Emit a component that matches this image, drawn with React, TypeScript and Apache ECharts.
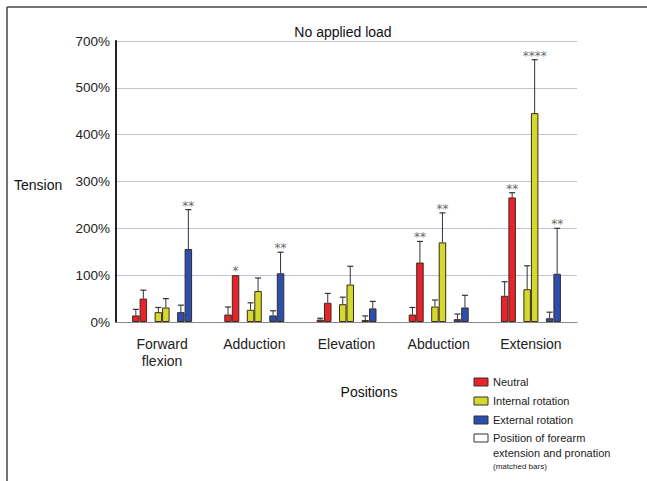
import React, { useEffect, useRef } from 'react';
import * as echarts from 'echarts';

// ---- data (values in % tension) ----
const categories = ['Forward\nflexion', 'Adduction', 'Elevation', 'Abduction', 'Extension'];
const yTickLabels = ['0%', '100%', '200%', '300%', '400%', '500%', '700%'];

const neutralForearm = [14, 16, 5, 16, 56];
const neutralForearmErr = [27, 32, 8, 31, 86];
const neutral = [50, 100, 41, 127, 266];
const neutralErr = [68, 100, 61, 172, 276];
const neutralStars = ['', '*', '', '**', '**'];

const internalForearm = [21, 26, 38, 33, 70];
const internalForearmErr = [31, 41, 53, 47, 120];
const internal = [31, 66, 80, 170, 446];
const internalErr = [50, 94, 119, 233, 560];
const internalStars = ['', '', '', '**', '****'];

const externalForearm = [21, 14, 4, 6, 8];
const externalForearmErr = [36, 24, 13, 17, 21];
const external = [156, 104, 29, 31, 103];
const externalErr = [240, 149, 44, 57, 200];
const externalStars = ['**', '**', '', '', '**'];

const legendLabels = ['Neutral', 'Internal rotation', 'External rotation'];

// ---- styles ----
const RED = '#e8232b';
const YELLOW = '#d4da2c';
const BLUE = '#2c4fae';
const BORDER = '#3a2a22';
const STAR = '#6a6a6a';
const FONT = '"Liberation Sans", Arial, sans-serif';
const BAR_W = 7.5;

export default function App() {
  const ref = useRef<HTMLDivElement>(null);

  useEffect(() => {
    const chart = echarts.init(ref.current!, null, { renderer: 'svg' });

    const barSlots: any[] = [
      { name: 'Neutral (forearm)', data: neutralForearm, err: neutralForearmErr, stars: null, color: RED },
      { name: 'Neutral', data: neutral, err: neutralErr, stars: neutralStars, color: RED },
      { spacer: true },
      { name: 'Internal rotation (forearm)', data: internalForearm, err: internalForearmErr, stars: null, color: YELLOW },
      { name: 'Internal rotation', data: internal, err: internalErr, stars: internalStars, color: YELLOW },
      { spacer: true },
      { name: 'External rotation (forearm)', data: externalForearm, err: externalForearmErr, stars: null, color: BLUE },
      { name: 'External rotation', data: external, err: externalErr, stars: externalStars, color: BLUE },
    ];
    const nSlots = barSlots.length;

    const series: any[] = barSlots.map((s, i) => {
      if (s.spacer) {
        return {
          type: 'bar',
          name: 'spacer' + i,
          data: categories.map(() => 0),
          barWidth: BAR_W,
          barGap: '0%',
          silent: true,
          itemStyle: { opacity: 0, borderWidth: 0 },
        };
      }
      return {
        type: 'bar',
        name: s.name,
        data: s.data,
        barWidth: BAR_W,
        barGap: '0%',
        itemStyle: { color: s.color, borderColor: BORDER, borderWidth: 1 },
      };
    });

    // error bar items
    const errItems: any[] = [];
    barSlots.forEach((s, i) => {
      if (s.spacer) return;
      const off = (i - (nSlots - 1) / 2) * BAR_W;
      s.data.forEach((v: number, c: number) => {
        errItems.push({ value: [c, v, s.err[c], off], stars: s.stars ? s.stars[c] : '' });
      });
    });

    series.push({
      type: 'custom',
      name: 'errors',
      silent: true,
      z: 5,
      itemStyle: { color: STAR },
      encode: { x: 0, y: 2 },
      data: errItems,
      renderItem: (params: any, api: any) => {
        const item = errItems[params.dataIndex];
        const [c, v, e, off] = item.value;
        const x = api.coord([c, 0])[0] + off;
        const yv = api.coord([c, v])[1];
        const ye = api.coord([c, e])[1];
        const children: any[] = [];
        if (e > v) {
          children.push({
            type: 'line',
            shape: { x1: x, y1: yv, x2: x, y2: ye },
            style: { stroke: '#333', lineWidth: 1 },
          });
          children.push({
            type: 'line',
            shape: { x1: x - 3, y1: ye, x2: x + 3, y2: ye },
            style: { stroke: '#333', lineWidth: 1.2 },
          });
        }
        if (item.stars) {
          const top = Math.min(yv, ye);
          children.push({
            type: 'text',
            x,
            y: top - 4,
            style: {
              text: item.stars,
              fill: STAR,
              font: '12px "DejaVu Sans", sans-serif',
              align: 'center',
              verticalAlign: 'middle',
            },
          });
        }
        return { type: 'group', children };
      },
    });

    const legendColors = [RED, YELLOW, BLUE];
    const legendGraphics: any[] = [];
    const legendX = 474;
    const rowY = [382, 401, 420];
    legendLabels.forEach((t, i) => {
      legendGraphics.push({
        type: 'rect',
        shape: { x: legendX, y: rowY[i] - 4, width: 14, height: 8 },
        style: { fill: legendColors[i], stroke: '#333', lineWidth: 1 },
      });
      legendGraphics.push({
        type: 'text',
        x: legendX + 19,
        y: rowY[i],
        style: { text: t, font: `11px ${FONT}`, fill: '#222', verticalAlign: 'middle' },
      });
    });
    legendGraphics.push({
      type: 'rect',
      shape: { x: legendX, y: 438 - 4, width: 14, height: 8 },
      style: { fill: '#fff', stroke: '#333', lineWidth: 1 },
    });
    legendGraphics.push({
      type: 'text',
      x: legendX + 19,
      y: 438,
      style: { text: 'Position of forearm', font: `11px ${FONT}`, fill: '#222', verticalAlign: 'middle' },
    });
    legendGraphics.push({
      type: 'text',
      x: legendX + 19,
      y: 453,
      style: { text: 'extension and pronation', font: `11px ${FONT}`, fill: '#222', verticalAlign: 'middle' },
    });
    legendGraphics.push({
      type: 'text',
      x: legendX + 19,
      y: 466,
      style: { text: '(matched bars)', font: `8px ${FONT}`, fill: '#222', verticalAlign: 'middle' },
    });

    const option: any = {
      animation: false,
      backgroundColor: '#fff',
      grid: { left: 116, right: 70, top: 41, bottom: 159 },
      xAxis: {
        type: 'category',
        data: categories,
        axisLine: { show: true, lineStyle: { color: '#8a8a8a', width: 1 } },
        axisTick: { show: false },
        axisLabel: {
          color: '#222',
          fontFamily: FONT,
          fontSize: 14,
          lineHeight: 17,
          margin: 13,
          interval: 0,
        },
      },
      yAxis: {
        type: 'value',
        min: 0,
        max: 600,
        interval: 100,
        axisLine: { show: true, lineStyle: { color: '#222', width: 2 } },
        axisTick: { show: false },
        splitLine: { show: true, lineStyle: { color: '#bfc4dc', width: 1.2 } },
        axisLabel: {
          color: '#222',
          fontFamily: FONT,
          fontSize: 13.5,
          margin: 6,
          padding: [6, 0, 0, 0],
          formatter: (v: number) => yTickLabels[Math.round(v / 100)],
        },
      },
      graphic: [
        {
          type: 'line',
          shape: { x1: 7, y1: 7, x2: 647, y2: 7 },
          style: { stroke: '#444', lineWidth: 1.5 },
        },
        {
          type: 'line',
          shape: { x1: 7, y1: 7, x2: 7, y2: 481 },
          style: { stroke: '#444', lineWidth: 1.5 },
        },
        {
          type: 'text',
          x: 343,
          y: 32,
          style: { text: 'No applied load', font: `14px ${FONT}`, fill: '#111', align: 'center', verticalAlign: 'middle' },
        },
        {
          type: 'text',
          x: 14,
          y: 185,
          style: { text: 'Tension', font: `14px ${FONT}`, fill: '#111', verticalAlign: 'middle' },
        },
        {
          type: 'text',
          x: 369,
          y: 392,
          style: { text: 'Positions', font: `14px ${FONT}`, fill: '#111', align: 'center', verticalAlign: 'middle' },
        },
        ...legendGraphics,
      ],
      series,
    };

    chart.setOption(option);
    return () => chart.dispose();
  }, []);

  return (
    <div
      ref={ref}
      style={{ position: 'fixed', left: 0, top: 0, width: 647, height: 481, background: '#fff' }}
    />
  );
}
